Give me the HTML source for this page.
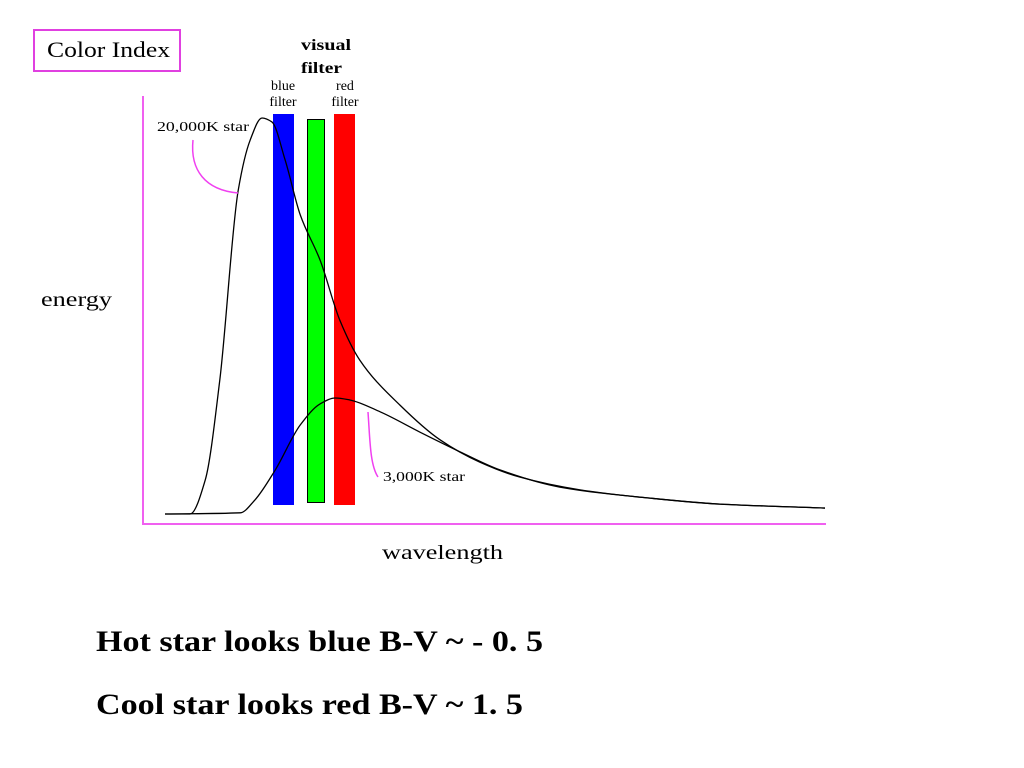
<!DOCTYPE html>
<html><head><meta charset="utf-8"><style>
body{margin:0;width:1024px;height:768px;background:#fff;overflow:hidden;font-family:"Liberation Serif",serif}
</style></head><body>
<svg width="1024" height="768" style="position:absolute;left:0;top:0">
<rect x="34" y="30" width="146" height="41" fill="none" stroke="#e040e0" stroke-width="2"/>
<text x="47" y="57" font-size="22" textLength="123" lengthAdjust="spacingAndGlyphs">Color Index</text>
<text x="301" y="50" font-size="16" font-weight="bold" textLength="50" lengthAdjust="spacingAndGlyphs">visual</text>
<text x="301" y="73" font-size="16" font-weight="bold" textLength="41" lengthAdjust="spacingAndGlyphs">filter</text>
<text x="283" y="90" font-size="14" text-anchor="middle">blue</text>
<text x="283" y="106" font-size="14" text-anchor="middle">filter</text>
<text x="345" y="90" font-size="14" text-anchor="middle">red</text>
<text x="345" y="106" font-size="14" text-anchor="middle">filter</text>
<line x1="143" y1="96" x2="143" y2="525" stroke="#f060f0" stroke-width="2"/>
<line x1="143" y1="524" x2="826" y2="524" stroke="#f060f0" stroke-width="2"/>
<text x="41" y="306" font-size="20" textLength="71" lengthAdjust="spacingAndGlyphs">energy</text>
<text x="382" y="559" font-size="20" textLength="121" lengthAdjust="spacingAndGlyphs">wavelength</text>
<rect x="273" y="114" width="21" height="391" fill="#0000ff"/>
<rect x="307.5" y="119.5" width="17" height="383" fill="#00ff00" stroke="#000" stroke-width="1"/>
<rect x="334" y="114" width="21" height="391" fill="#ff0000"/>
<g id="curves"></g>
<path d="M193,140 C190,170 205,190 238,193" fill="none" stroke="#f040f0" stroke-width="1.5"/>
<text x="157" y="131" font-size="14" textLength="92" lengthAdjust="spacingAndGlyphs">20,000K star</text>
<path d="M368,412 C370,440 370,465 378,477" fill="none" stroke="#f040f0" stroke-width="1.5"/>
<text x="383" y="481" font-size="14" textLength="82" lengthAdjust="spacingAndGlyphs">3,000K star</text>
<text x="96" y="651" font-size="30" font-weight="bold" textLength="447" lengthAdjust="spacingAndGlyphs">Hot star looks blue B-V ~ - 0. 5</text>
<text x="96" y="714" font-size="30" font-weight="bold" textLength="427" lengthAdjust="spacingAndGlyphs">Cool star looks red B-V ~ 1. 5</text>
</svg>
<script>
const hotW=[0,3.8,6.1,8.3,11.1,12.9,14.7,16.2,18.2,20.5,23.5,26.5,29.5,35.6,41.7,47.7,53.8,62.9,73.5,84.1,100];
const hotE=[0,0,8.6,33.8,81.8,94.4,100,99,89.4,75.5,64.1,48.9,38.9,27.5,18.7,13.1,9.3,6.1,4.0,2.5,1.5];
const coolW=[0,11.4,13.6,16.7,20.5,23.5,25.8,28,32.6,38.6,44.7,50.8,59.8,73.5,84.1,100];
const coolE=[0,0.3,3.5,11.1,22.5,27.8,29.3,28.8,25.8,20.7,15.7,11.1,6.8,4.0,2.5,1.5];
function xs(w){return 165+w*6.6;}
function ys(e){return 514-e*3.96;}
function path(W,E){
  const x=W.map(xs),y=E.map(ys),n=x.length;
  const d=[],m=new Array(n);
  for(let i=0;i<n-1;i++)d.push((y[i+1]-y[i])/(x[i+1]-x[i]));
  m[0]=d[0];m[n-1]=d[n-2];
  for(let i=1;i<n-1;i++){
    if(d[i-1]*d[i]<=0)m[i]=0;
    else{const a=x[i]-x[i-1],b=x[i+1]-x[i];m[i]=3*(a+b)/((2*b+a)/d[i-1]+(b+2*a)/d[i]);}
  }
  let s='M'+x[0]+','+y[0];
  for(let i=0;i<n-1;i++){
    const h=(x[i+1]-x[i])/3;
    s+=' C'+(x[i]+h)+','+(y[i]+m[i]*h)+' '+(x[i+1]-h)+','+(y[i+1]-m[i+1]*h)+' '+x[i+1]+','+y[i+1];
  }
  return s;
}
const g=document.getElementById('curves');
function add(W,E,name){
  const el=document.createElementNS('http://www.w3.org/2000/svg','path');
  el.setAttribute('d',path(W,E));
  el.setAttribute('fill','none');el.setAttribute('stroke','#000');el.setAttribute('stroke-width','1.3');
  
  
  g.appendChild(el);
}
add(hotW,hotE,'hot-star-curve');
add(coolW,coolE,'cool-star-curve');
</script>
</body></html>
